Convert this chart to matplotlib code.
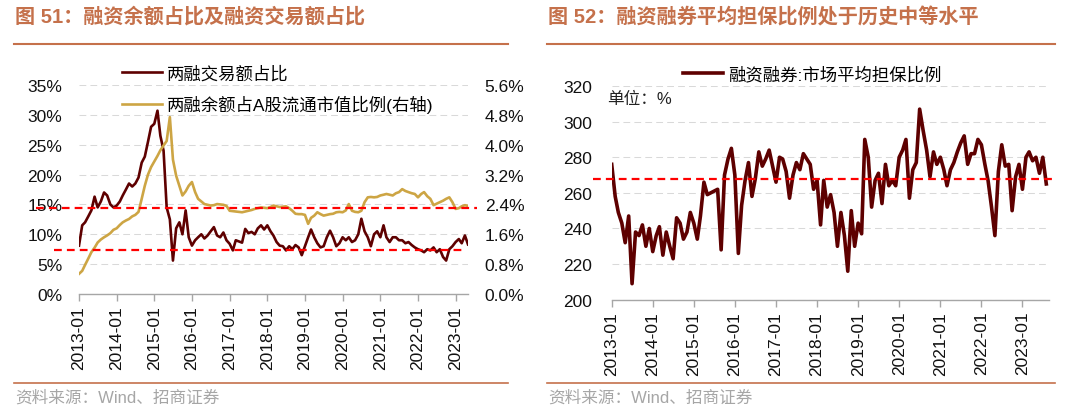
import numpy as np
import pandas as pd
import matplotlib
matplotlib.use('Agg')
import matplotlib.pyplot as plt
import matplotlib.dates as mdates
from matplotlib.lines import Line2D
from matplotlib.ticker import FuncFormatter
from matplotlib.transforms import blended_transform_factory

plt.rcParams['font.family'] = ['Liberation Sans', 'Noto Sans CJK SC', 'DejaVu Sans']

# ---- data (monthly readings, 2013-01 onward) ----
# 两融交易额占比, %
trade_share = [
    8.1, 11.5, 12.0, 13.0, 14.0, 16.3, 14.5, 15.5, 17.0, 16.5, 15.0, 14.5,
    14.8, 15.5, 16.5, 17.5, 18.5, 18.0, 18.5, 19.5, 22.0, 23.0, 25.5, 28.0,
    28.5, 30.7, 26.5, 24.0, 14.5, 12.5, 5.6, 11.0, 12.0, 10.0, 14.0, 9.5,
    8.1, 9.0, 9.5, 10.0, 9.3, 9.8, 10.5, 11.2, 9.8, 9.5, 10.3, 9.0,
    8.4, 7.3, 9.0, 8.8, 8.6, 10.9, 10.2, 10.4, 10.0, 11.0, 11.5, 10.8,
    11.5, 10.5, 9.8, 8.7, 8.1, 8.0, 7.3, 8.0, 7.5, 8.2, 7.8, 6.5,
    8.0, 9.5, 10.8, 9.5, 8.5, 7.8, 8.0, 9.5, 10.6, 9.5, 8.0, 8.5,
    9.5, 9.0, 9.5, 8.7, 9.0, 10.0, 12.6, 10.5, 9.5, 8.0, 10.0, 10.5,
    9.5, 11.5, 9.5, 8.7, 9.5, 9.5, 9.0, 9.0, 8.5, 8.7, 8.2, 7.8,
    7.5, 7.3, 7.0, 7.5, 7.3, 7.8, 7.0, 7.5, 6.2, 5.6, 7.5, 8.0,
    8.7, 9.2, 8.5, 9.8, 8.3,
]
# 两融余额占A股流通市值比例, % (right axis)
balance_share = [
    0.54, 0.62, 0.78, 0.95, 1.12, 1.24, 1.38, 1.46, 1.52, 1.57, 1.63, 1.72,
    1.76, 1.85, 1.92, 1.97, 2.01, 2.08, 2.12, 2.20, 2.55, 2.90, 3.20, 3.40,
    3.55, 3.70, 3.85, 3.98, 4.10, 4.74, 3.60, 3.17, 2.90, 2.64, 2.75, 2.90,
    3.00, 2.73, 2.55, 2.48, 2.41, 2.39, 2.37, 2.38, 2.41, 2.40, 2.39, 2.36,
    2.23, 2.22, 2.21, 2.20, 2.19, 2.21, 2.23, 2.25, 2.28, 2.30, 2.32, 2.31,
    2.30, 2.33, 2.37, 2.35, 2.33, 2.34, 2.35, 2.30, 2.23, 2.15, 2.14, 2.14,
    2.12, 1.88, 2.04, 2.10, 2.19, 2.14, 2.10, 2.12, 2.14, 2.15, 2.19, 2.20,
    2.19, 2.24, 2.41, 2.23, 2.20, 2.19, 2.23, 2.46, 2.59, 2.60, 2.59, 2.60,
    2.64, 2.66, 2.68, 2.66, 2.64, 2.70, 2.73, 2.81, 2.76, 2.73, 2.70, 2.68,
    2.59, 2.68, 2.73, 2.62, 2.55, 2.38, 2.42, 2.46, 2.50, 2.55, 2.59, 2.46,
    2.28, 2.30, 2.35, 2.38, 2.36,
]
# 融资融券:市场平均担保比例, %
collateral_ratio = [
    276, 258, 249, 243, 232, 247, 209, 238, 236, 242, 230, 240,
    227, 236, 241, 225, 238, 230, 223, 246, 243, 234, 238, 249,
    243, 234, 247, 266, 259, 260, 261, 262, 228, 270, 279, 285,
    270, 226, 253, 267, 277, 258, 268, 283, 275, 279, 284, 275,
    266, 280, 279, 272, 257, 270, 277, 273, 282, 279, 276, 262,
    267, 242, 267, 252, 259, 249, 230, 249, 236, 216, 250, 230,
    243, 237, 290, 280, 252, 267, 271, 254, 276, 264, 267, 264,
    280, 284, 290, 257, 273, 277, 307, 295, 284, 269, 283, 276,
    280, 273, 264, 273, 277, 283, 288, 292, 276, 282, 282, 290,
    287, 276, 267, 252, 236, 272, 287, 275, 276, 250, 269, 276,
    262, 280, 283, 278, 280, 271, 280, 265,
]
trade_level = 7.4       # 交易额占比参考线
balance_level = 14.4    # 余额占比参考线 (左轴刻度)
collateral_level = 268  # 担保比例参考线

left_dates = pd.date_range('2013-01-01', periods=len(trade_share), freq='MS')
right_dates = pd.date_range('2013-01-01', periods=len(collateral_ratio), freq='MS')

TITLE_C = '#C5714B'
MAROON = '#5E0000'
GOLD = '#CDA544'
RED = '#FF0000'
W, H = 1080, 414


def fx(px):
    return px / W


def fy(py):
    return 1 - py / H


fig = plt.figure(figsize=(10.8, 4.14), dpi=100)


def style(ax):
    for s in ['top', 'right', 'left']:
        ax.spines[s].set_visible(False)
    ax.spines['bottom'].set_color('#A6A6A6')
    ax.spines['bottom'].set_linewidth(1.0)
    ax.xaxis.set_major_locator(mdates.YearLocator())
    ax.xaxis.set_major_formatter(mdates.DateFormatter('%Y-%m'))
    ax.tick_params(axis='x', length=5, color='#A6A6A6', width=1,
                   labelrotation=90, labelsize=12.5, pad=3, labelcolor='#111111')
    ax.tick_params(axis='y', length=0, labelsize=12.5, labelcolor='#111111')
    ax.grid(axis='y', color='#D9D9D9', lw=0.75, ls=(0, (6.5, 4)))
    ax.set_axisbelow(True)


# ---- left chart ----
ax1 = fig.add_axes([fx(79), fy(295), (468 - 79) / W, (295 - 86) / H])
style(ax1)
l1, = ax1.plot(left_dates, trade_share, color=MAROON, lw=1.9)
ax1.set_ylim(0, 35)
ax1.set_yticks(np.arange(0, 36, 5))
ax1.yaxis.set_major_formatter(FuncFormatter(lambda v, p: f'{v:.0f}%'))
ax1.tick_params(axis='y', pad=12)
ax1.set_xlim(left_dates[0], left_dates[-1])

ax1b = ax1.twinx()
for s in ax1b.spines.values():
    s.set_visible(False)
l2, = ax1b.plot(left_dates, balance_share, color=GOLD, lw=1.9)
ax1b.set_ylim(0, 5.6)
ax1b.set_yticks([0, 0.8, 1.6, 2.4, 3.2, 4.0, 4.8, 5.6])
ax1b.yaxis.set_major_formatter(FuncFormatter(lambda v, p: f'{v:.1f}%'))
ax1b.tick_params(axis='y', length=0, labelsize=12.5, pad=12, labelcolor='#111111')

tr1 = blended_transform_factory(ax1.transAxes, ax1.transData)
fig.add_artist(Line2D([-0.11, 1.022], [balance_level, balance_level], transform=tr1,
                      color=RED, lw=1.6, ls=(0, (3.5, 2.3))))
fig.add_artist(Line2D([-0.064, 0.991], [trade_level, trade_level], transform=tr1,
                      color=RED, lw=1.6, ls=(0, (3.5, 2.3))))

fig.legend([l1, l2], ['两融交易额占比', '两融余额占A股流通市值比例(右轴)'],
           loc='upper left', bbox_to_anchor=(fx(122), fy(66)), frameon=False,
           fontsize=12.5, handlelength=2.3, handletextpad=0.3, labelspacing=0.8,
           borderpad=0, borderaxespad=0)

# ---- right chart ----
ax2 = fig.add_axes([fx(611.7), fy(300.7), (1049 - 611.7) / W, (300.7 - 87) / H])
style(ax2)
l3, = ax2.plot(right_dates, collateral_ratio, color=MAROON, lw=2.6)
ax2.set_ylim(200, 320)
ax2.set_yticks(np.arange(200, 321, 20))
ax2.tick_params(axis='y', pad=14)
ax2.set_xlim(right_dates[0], pd.Timestamp('2023-08-25'))

tr2 = blended_transform_factory(ax2.transAxes, ax2.transData)
fig.add_artist(Line2D([-0.043, 1.013], [collateral_level, collateral_level], transform=tr2,
                      color=RED, lw=1.6, ls=(0, (3.5, 2.3))))

fig.legend([l3], ['融资融券:市场平均担保比例'],
           loc='upper left', bbox_to_anchor=(fx(683), fy(66)), frameon=False,
           fontsize=12.5, handlelength=2.3, handletextpad=0.3,
           borderpad=0, borderaxespad=0)
fig.text(fx(607), fy(99), '单位：%', fontsize=12, color='#222222', va='center', ha='left')

# ---- titles, rules, sources ----
for x0, x1, title in [(14, 508, '图 51：融资余额占比及融资交易额占比'),
                      (547, 1055, '图 52：融资融券平均担保比例处于历史中等水平')]:
    fig.text(fx(x0 + 1), fy(17), title, color=TITLE_C, fontsize=14.5,
             fontweight='bold', va='center', ha='left')
    fig.add_artist(Line2D([fx(x0), fx(x1)], [fy(45), fy(45)], color=TITLE_C, lw=1.5))
    fig.add_artist(Line2D([fx(x0), fx(x1)], [fy(384), fy(384)], color=TITLE_C, lw=1.2))
    fig.text(fx(x0 + 1), fy(398), '资料来源：Wind、招商证券', color='#A6A6A6',
             fontsize=12, va='center', ha='left')

fig.savefig('out.png', dpi=100)
